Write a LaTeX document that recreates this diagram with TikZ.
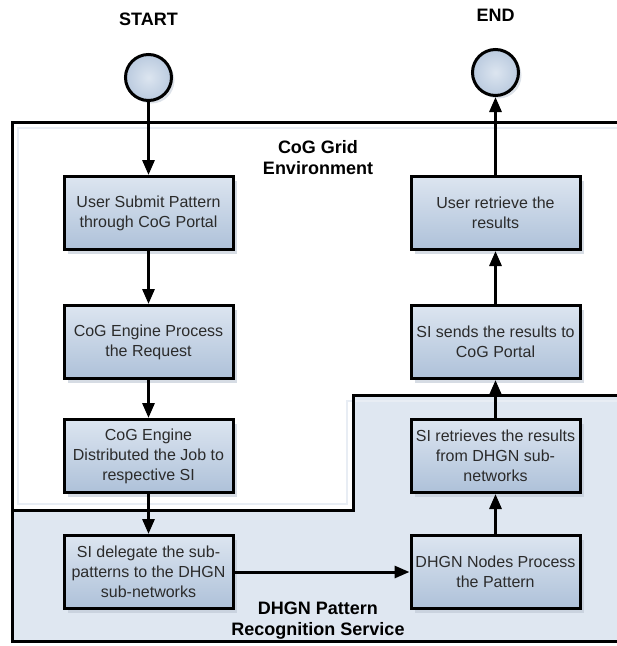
\documentclass[tikz,border=0pt]{standalone}
\usepackage{fontspec}
\setmainfont{Liberation Sans}
\usetikzlibrary{arrows.meta,positioning,shadows}

\definecolor{boxtop}{HTML}{DCE5F0}
\definecolor{boxbot}{HTML}{AEC1D9}
\definecolor{zonefill}{HTML}{DFE7F1}
\definecolor{shade}{HTML}{BCC6D3}
\definecolor{glow}{HTML}{E8EDF4}
\definecolor{ink}{HTML}{2B2B2B}

\begin{document}
\begin{tikzpicture}[
  x=1pt, y=1pt,
  node distance=40pt and 175pt,
  task/.style={draw, line width=3pt, minimum width=169pt, minimum height=73pt,
               align=center, top color=boxtop, bottom color=boxbot, text=ink,
               font=\fontsize{16}{20}\selectfont,
               drop shadow={shadow xshift=4pt, shadow yshift=-4pt, fill=shade, opacity=.6}},
  term/.style={draw, circle, line width=3pt, minimum size=46pt, inner sep=0pt,
               inner color=boxtop, outer color=boxbot!85,
               drop shadow={shadow xshift=3pt, shadow yshift=-3pt, fill=shade, opacity=.5}},
  title/.style={font=\bfseries\fontsize{18}{21}\selectfont, align=center, inner sep=0pt},
  arr/.style={-{Triangle[length=15pt, width=12pt]}, line width=3pt}
]
\clip (0,0) rectangle (617,-646);

% grid environment and pattern recognition service
\fill[white] (12,-122) rectangle (640,-641);
\fill[zonefill] (12,-510) -| (353,-395) -| (640,-641) -- (12,-641) -- cycle;
\draw[glow, line width=2pt] (640,-128) -- (18,-128) -- (18,-504) -- (347,-504) |- (640,-401);
\draw[line width=3pt] (12,-510) -| (353,-395) -- (640,-395);
\draw[line width=3pt] (640,-122) -- (12,-122) -- (12,-641) -- (640,-641);
\node[title] (cog)  at (318,-158) {CoG Grid\\Environment};
\node[title] (dhgn) at (318,-621) {DHGN Pattern\\Recognition Service};

\node[task] (submit) at (148.5,-213) {User Submit Pattern\\through CoG Portal};
\node[task, below=53pt of submit] (engine) {CoG Engine Process\\the Request};
\node[task, below=38pt of engine] (distrib) {CoG Engine\\Distributed the Job to\\respective SI};
\node[task, below=of distrib] (delegate) {SI delegate the sub-\\patterns to the DHGN\\sub-networks};
\node[task, right=of delegate] (process) {DHGN Nodes Process\\the Pattern};
\node[task, above=of process] (retrieve) {SI retrieves the results\\from DHGN sub-\\networks};
\node[task, above=38pt of retrieve] (sends) {SI sends the results to\\CoG Portal};
\node[task, above=53pt of sends] (user) {User retrieve the\\results};

\node[term, above=73pt of submit] (start) {};
\node[term, above=78pt of user] (stop) {};
\node[title, above=27pt of start] (startlbl) {START};
\node[title, above=26pt of stop] (stoplbl) {END};

\draw[arr] (start) -- (submit);
\draw[arr] (submit) -- (engine);
\draw[arr] (engine) -- (distrib);
\draw[arr] (distrib) -- (delegate);
\draw[arr] (delegate) -- (process);
\draw[arr] (process) -- (retrieve);
\draw[arr] (retrieve) -- (sends);
\draw[arr] (sends) -- (user);
\draw[arr] (user) -- (stop);
\end{tikzpicture}
\end{document}
